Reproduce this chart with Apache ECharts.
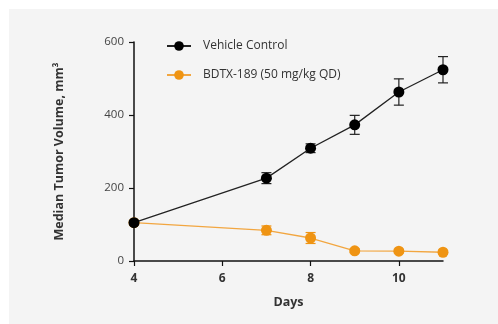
<!DOCTYPE html>
<html><head><meta charset="utf-8">
<script src="https://cdn.jsdelivr.net/npm/echarts@6/dist/echarts.min.js"></script>
<style>html,body{margin:0;padding:0;background:#fff}#bg{position:absolute;left:9px;top:9px;right:0;bottom:0;background:#f4f4f4}#c{position:absolute;left:0;top:0;width:498px;height:324px}</style>
</head><body><div id="bg"></div><div id="c"></div>
<script>
var days = [4, 7, 8, 9, 10, 11];
var vehicle = [105, 227, 309, 373, 463, 524];
var vehicleErr = [6, 15, 12, 26, 36, 36];
var bdtx = [105, 84, 63, 28, 27, 24];
var bdtxErr = [5, 12, 15, 5, 5, 5];
var xTicks = [4, 6, 8, 10];
var yTicks = [0, 200, 400, 600];
var names = ['Vehicle Control', 'BDTX-189 (50 mg/kg QD)'];

function pairs(v){ return days.map(function(d,i){ return [d, v[i]]; }); }
function errData(v,e){ return days.map(function(d,i){ return [d, v[i]-e[i], v[i]+e[i]]; }); }
function errSeries(v,e,color){
  return {type:'custom', data: errData(v,e), z:3, silent:true,
    renderItem:function(params, api){
      var x = api.value(0), lo = api.coord([x, api.value(1)]), hi = api.coord([x, api.value(2)]);
      var w = 5;
      return {type:'group', children:[
        {type:'line', shape:{x1:lo[0],y1:lo[1],x2:hi[0],y2:hi[1]}, style:{stroke:color,lineWidth:1.2}},
        {type:'line', shape:{x1:lo[0]-w,y1:lo[1],x2:lo[0]+w,y2:lo[1]}, style:{stroke:color,lineWidth:1.2}},
        {type:'line', shape:{x1:hi[0]-w,y1:hi[1],x2:hi[0]+w,y2:hi[1]}, style:{stroke:color,lineWidth:1.2}}
      ]};
    }};
}
var chart = echarts.init(document.getElementById('c'));
var F = 'Open Sans';
chart.setOption({
  animation:false,
  backgroundColor:'transparent',
  grid:{left:134, right:55, top:42, bottom:63},
  legend:{left:161, top:35, orient:'vertical', itemGap:17, itemWidth:24, itemHeight:12,
    textStyle:{fontFamily:F, fontSize:12, color:'#333', padding:[0,0,0,7]},
    data:[names[0], names[1]]},
  xAxis:{type:'value', min:4, max:11, interval:2,
    name:'Days', nameLocation:'middle', nameGap:35,
    nameTextStyle:{fontFamily:F, fontSize:12.5, fontWeight:'bold', color:'#333'},
    axisLine:{lineStyle:{color:'#111', width:1.5}},
    axisTick:{length:5, lineStyle:{color:'#111', width:1.2}},
    axisLabel:{fontFamily:F, fontSize:12, fontWeight:'bold', color:'#333', margin:12, showMaxLabel:false,
      formatter:function(v){ return xTicks.indexOf(v)>=0 ? String(v) : ''; }},
    splitLine:{show:false}},
  yAxis:{type:'value', min:0, max:600, interval:200,
    name:'Median Tumor Volume, mm³', nameLocation:'middle', nameGap:68,
    nameTextStyle:{fontFamily:F, fontSize:12.5, fontWeight:'bold', color:'#333'},
    axisLine:{show:true, lineStyle:{color:'#111', width:1.5}},
    axisTick:{show:true, length:5, lineStyle:{color:'#111', width:1.2}},
    axisLabel:{fontFamily:F, fontSize:11.5, color:'#444', margin:10,
      formatter:function(v){ return yTicks.indexOf(v)>=0 ? String(v) : ''; }},
    splitLine:{show:false}},
  series:[
    {name:names[1], type:'line', data:pairs(bdtx), symbol:'circle', symbolSize:11, z:4,
      itemStyle:{color:'#ef9413'}, lineStyle:{color:'#f2a640', width:1.3}},
    errSeries(bdtx, bdtxErr, '#ef9413'),
    {name:names[0], type:'line', data:pairs(vehicle), symbol:'circle', symbolSize:11, z:5,
      itemStyle:{color:'#000'}, lineStyle:{color:'#222', width:1.3}},
    errSeries(vehicle, vehicleErr, '#222')
  ]
});
</script></body></html>
